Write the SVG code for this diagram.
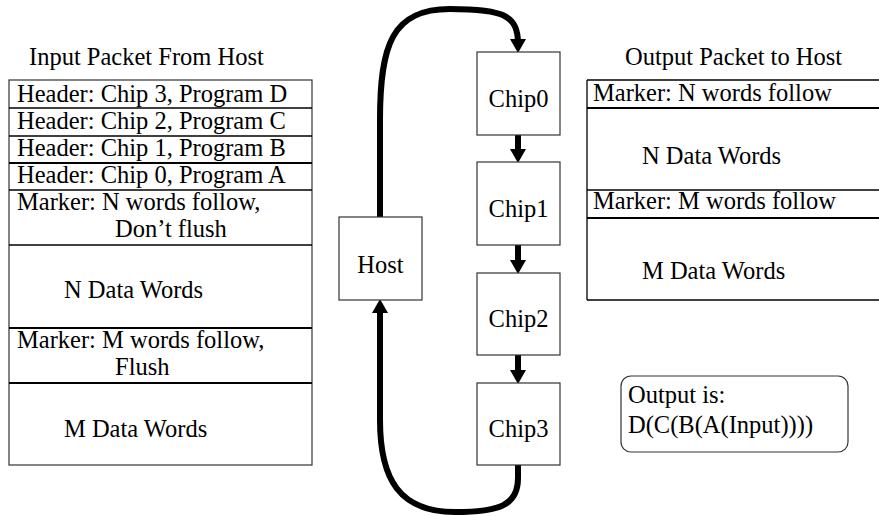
<svg xmlns="http://www.w3.org/2000/svg" width="879" height="516" viewBox="0 0 879 516" font-family="'Liberation Serif', 'Times New Roman', Times, 'DejaVu Serif', serif" font-size="24.5">
  <style>
    text { font-family: 'Liberation Serif', 'Times New Roman', Times, 'DejaVu Serif', serif; font-size: 24.5px; fill: #000; }
    .mid { text-anchor: middle; }
    .box { fill: #fff; stroke: #333; stroke-width: 1.2; }
    .sep { stroke: #000; stroke-width: 1.3; fill: none; }
    .sepb { stroke: #000; stroke-width: 2; fill: none; }
    .flow { stroke: #000; stroke-width: 6; fill: none; marker-end: url(#head); }
  </style>
  <defs>
    <marker id="head" markerUnits="userSpaceOnUse" viewBox="0 0 14 16" markerWidth="14" markerHeight="16" refX="5" refY="8" orient="auto">
      <path d="M0,0 L14,8 L0,16 z" fill="#000"/>
    </marker>
  </defs>
  <rect width="879" height="516" fill="#fff"/>

  <!-- input packet layout -->
  <g id="input-packet">
    <text x="29" y="65">Input Packet From Host</text>
    <rect class="box" x="9" y="80" width="303" height="385"/>
    <line class="sep" x1="9" y1="108" x2="312" y2="108"/>
    <line class="sep" x1="9" y1="136" x2="312" y2="136"/>
    <line class="sepb" x1="9" y1="163" x2="312" y2="163"/>
    <line class="sep" x1="9" y1="190" x2="312" y2="190"/>
    <line class="sep" x1="9" y1="245" x2="312" y2="245"/>
    <line class="sepb" x1="9" y1="328" x2="312" y2="328"/>
    <line class="sepb" x1="9" y1="383" x2="312" y2="383"/>
    <text x="17" y="102">Header: Chip 3, Program D</text>
    <text x="17" y="129">Header: Chip 2, Program C</text>
    <text x="17" y="156">Header: Chip 1, Program B</text>
    <text x="17" y="183">Header: Chip 0, Program A</text>
    <text x="17" y="210">Marker: N words follow,</text>
    <text x="115" y="237">Don’t flush</text>
    <text x="64" y="298">N Data Words</text>
    <text x="17" y="348">Marker: M words follow,</text>
    <text x="115" y="375">Flush</text>
    <text x="64" y="437">M Data Words</text>
  </g>

  <!-- output packet layout -->
  <g id="output-packet">
    <text x="625" y="65">Output Packet to Host</text>
    <line class="sep" x1="587" y1="80" x2="879" y2="80"/>
    <line class="sep" x1="587" y1="80" x2="587" y2="300"/>
    <line class="sepb" x1="587" y1="108" x2="879" y2="108"/>
    <line class="sep" x1="587" y1="190" x2="879" y2="190"/>
    <line class="sepb" x1="587" y1="218" x2="879" y2="218"/>
    <line class="sep" x1="587" y1="300" x2="879" y2="300"/>
    <text x="593" y="101">Marker: N words follow</text>
    <text x="642" y="164">N Data Words</text>
    <text x="593" y="209">Marker: M words follow</text>
    <text x="642" y="279">M Data Words</text>
  </g>

  <!-- connectors -->
  <g id="connectors">
    <path class="flow" d="M380,217 L380,120 C380,45 392,9 450,9 C505,9 518,16 518,44"/>
    <path class="flow" d="M518,135 L518,154"/>
    <path class="flow" d="M518,245 L518,265"/>
    <path class="flow" d="M518,355 L518,375"/>
    <path class="flow" d="M518,465 L518,478 C518,505 500,512 455,512 C400,512 380,480 380,420 L380,308"/>
  </g>

  <g id="host">
    <rect class="box" x="339" y="217" width="83" height="83"/>
    <text class="mid" x="380.5" y="273">Host</text>
  </g>
  <g id="chip0">
    <rect class="box" x="477" y="52" width="83" height="83"/>
    <text class="mid" x="518.5" y="107">Chip0</text>
  </g>
  <g id="chip1">
    <rect class="box" x="477" y="162" width="83" height="83"/>
    <text class="mid" x="518.5" y="217">Chip1</text>
  </g>
  <g id="chip2">
    <rect class="box" x="477" y="273" width="83" height="82"/>
    <text class="mid" x="518.5" y="327">Chip2</text>
  </g>
  <g id="chip3">
    <rect class="box" x="477" y="383" width="83" height="82"/>
    <text class="mid" x="518.5" y="437">Chip3</text>
  </g>

  <g id="result">
    <rect class="box" x="621" y="376" width="227" height="76" rx="10"/>
    <text x="628" y="403">Output is:</text>
    <text x="628" y="433">D(C(B(A(Input))))</text>
  </g>
</svg>
